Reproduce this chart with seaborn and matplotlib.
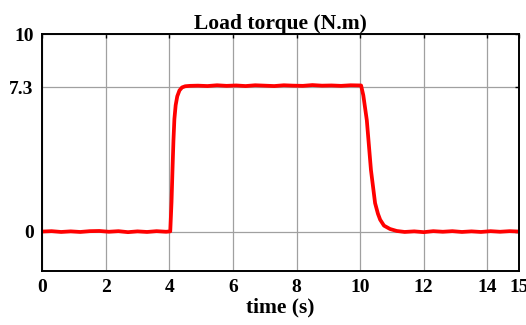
import matplotlib
matplotlib.use("Agg")
import matplotlib.pyplot as plt
import pandas as pd
import seaborn as sns

# values
time_s = [0.0, 0.3, 0.6, 0.9, 1.2, 1.5, 1.8, 2.1, 2.4, 2.7, 3.0, 3.3, 3.6, 3.9, 4.03,
          4.07, 4.10, 4.13, 4.16, 4.20, 4.25, 4.32, 4.40, 4.50, 4.65, 4.9, 5.2, 5.5,
          5.8, 6.1, 6.4, 6.7, 7.0, 7.3, 7.6, 7.9, 8.2, 8.5, 8.8, 9.1, 9.4, 9.7, 10.03,
          10.10, 10.21, 10.34, 10.47, 10.56, 10.63, 10.75, 10.94, 11.15, 11.4, 11.7,
          12.0, 12.3, 12.6, 12.9, 13.2, 13.5, 13.8, 14.1, 14.4, 14.7, 15.0]
torque = [0.0, 0.02, -0.02, 0.01, -0.02, 0.02, 0.03, -0.01, 0.02, -0.03, 0.01, -0.02, 0.02, -0.01, 0.01,
          1.5, 3.1, 4.6, 5.7, 6.4, 6.85, 7.15, 7.3, 7.36, 7.38, 7.39, 7.37, 7.41,
          7.38, 7.4, 7.37, 7.41, 7.39, 7.37, 7.41, 7.39, 7.38, 7.42, 7.39, 7.4, 7.38, 7.41, 7.4,
          6.9, 5.64, 3.12, 1.44, 0.9, 0.6, 0.3, 0.13, 0.03, -0.02, 0.01,
          -0.03, 0.02, -0.01, 0.02, -0.02, 0.01, -0.02, 0.02, -0.01, 0.02, 0.0]

x_ticks = [0, 2, 4, 6, 8, 10, 12, 14, 15]
y_ticks = [0, 7.3, 10]
y_tick_labels = ["0", "7.3", "10"]

df = pd.DataFrame({"time (s)": time_s, "torque": torque})

sns.set_style("white")
plt.rcParams["font.family"] = ["Liberation Serif", "DejaVu Serif"]
plt.rcParams["font.weight"] = "bold"
plt.rcParams["text.color"] = "black"
plt.rcParams["axes.labelcolor"] = "black"

fig = plt.figure(figsize=(5.26, 3.25), dpi=100)
ax = fig.add_axes([0.080, 0.166, 0.907, 0.729])
sns.lineplot(data=df, x="time (s)", y="torque", color="#ff0000", linewidth=2.7, ax=ax)

ax.set_xlim(0, 15)
ax.set_ylim(-2, 10)
ax.set_xticks(x_ticks)
ax.set_yticks(y_ticks)
ax.set_yticklabels(y_tick_labels)
ax.grid(True, color="#a0a0a0", linewidth=0.9)
ax.set_axisbelow(True)
ax.tick_params(direction="in", length=3, width=1, top=True, right=True,
               labelsize=14, pad=6, colors="black")
for lbl in ax.get_xticklabels() + ax.get_yticklabels():
    lbl.set_fontweight("bold")
for sp in ax.spines.values():
    sp.set_color("black")
    sp.set_linewidth(1.4)

ax.set_title("Load torque (N.m)", fontsize=15.5, fontweight="bold", color="black", pad=4)
ax.set_xlabel("time (s)", fontsize=15.5, fontweight="bold", color="black", labelpad=1)
ax.set_ylabel("")

fig.savefig("out.png", dpi=100)
